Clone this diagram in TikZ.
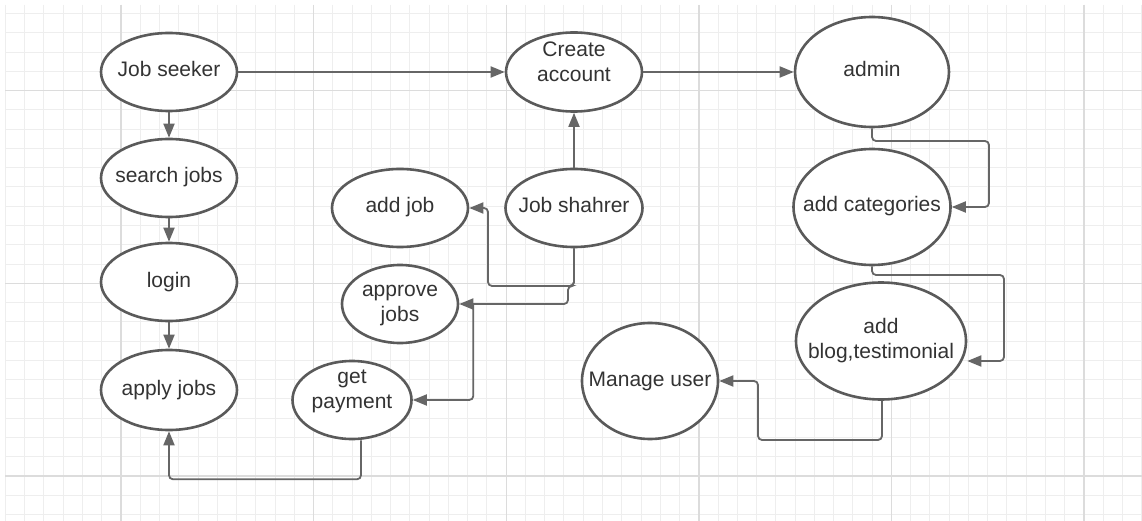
\documentclass[tikz,border=0pt]{standalone}
\usepackage{fontspec}
\setmainfont{Liberation Sans}
\usetikzlibrary{shapes.geometric,arrows.meta}
\definecolor{gridfine}{HTML}{EEEEEE}
\definecolor{gridmajor}{HTML}{DCDCDC}
\definecolor{edgecol}{HTML}{5A5A5A}
\definecolor{conncol}{HTML}{666666}
\definecolor{txtcol}{HTML}{333333}
\begin{document}
\begin{tikzpicture}[x=1pt,y=-1pt,
  ell/.style={ellipse,draw=edgecol,line width=2.6pt,fill=white,inner sep=0pt},
  lbl/.style={text=txtcol,font=\fontsize{21}{25}\selectfont,align=center,inner sep=0pt},
  arr/.style={draw=conncol,line width=1.8pt,rounded corners=4pt,-{Triangle[length=14pt,width=11pt]}},
  fineline/.style={draw=gridfine,line width=1pt},
  majorline/.style={draw=gridmajor,line width=1.4pt}
]
\fill[white] (0,0) rectangle (1142,521);
\useasboundingbox (0,0) rectangle (1142,521);
% grid
\foreach \i in {0,...,59} \draw[fineline] ({5.44+\i*19.26},5) -- ({5.44+\i*19.26},521);
\foreach \j in {0,...,26} \draw[fineline] (5.44,{13.66+\j*19.26}) -- (1142,{13.66+\j*19.26});
\foreach \i in {0,...,5} \draw[majorline] ({121+\i*192.6},5) -- ({121+\i*192.6},521);
\foreach \j in {0,...,2} \draw[majorline] (5.44,{90.7+\j*192.6}) -- (1142,{90.7+\j*192.6});

% ellipses
\node[ell,minimum width=136pt,minimum height=78pt] (js) at (169,72) {};
\node[ell,minimum width=136pt,minimum height=78pt] (sj) at (169,178) {};
\node[ell,minimum width=136pt,minimum height=78pt] (lg) at (169,282) {};
\node[ell,minimum width=136pt,minimum height=80pt] (aj) at (169,390) {};
\node[ell,minimum width=136pt,minimum height=79pt] (ca) at (574,72) {};
\node[ell,minimum width=154pt,minimum height=110pt] (ad) at (872,72) {};
\node[ell,minimum width=137pt,minimum height=78pt] (sh) at (574,208) {};
\node[ell,minimum width=136pt,minimum height=78pt] (addj) at (400,208) {};
\node[ell,minimum width=116pt,minimum height=78pt] (ap) at (400,304) {};
\node[ell,minimum width=119pt,minimum height=78pt] (gp) at (352,400) {};
\node[ell,minimum width=157pt,minimum height=116pt] (ac) at (872,207) {};
\node[ell,minimum width=170pt,minimum height=117pt] (ab) at (881,341) {};
\node[ell,minimum width=136pt,minimum height=116pt] (mu) at (650,381) {};

% labels
\node[lbl] (jst) at (js.center) {\strut Job seeker};
\node[lbl] (sjt) at (sj.center) {\strut search jobs};
\node[lbl] (lgt) at (lg.center) {\strut login};
\node[lbl] (ajt) at (aj.center) {\strut apply jobs};
\node[lbl] (cat) at ([yshift=8pt]ca.center) {\strut Create\\\strut account};
\node[lbl] (adt) at (ad.center) {\strut admin};
\node[lbl] (sht) at (sh.center) {\strut Job shahrer};
\node[lbl] (addjt) at (addj.center) {\strut add job};
\node[lbl] (apt) at (ap.center) {\strut approve\\\strut jobs};
\node[lbl] (gpt) at ([yshift=9pt]gp.center) {\strut get\\\strut payment};
\node[lbl] (act) at (ac.center) {\strut add categories};
\node[lbl] (abt) at (ab.center) {\strut add\\\strut blog,testimonial};
\node[lbl] (mut) at (mu.center) {\strut Manage user};

% connectors
\draw[arr] (js.east) -- (ca.west);
\draw[arr] (ca.east) -- (ad.west);
\draw[arr] (js.south) -- (sj.north);
\draw[arr] (sj.south) -- (lg.north);
\draw[arr] (lg.south) -- (aj.north);
\draw[arr] (sh.north) -- (ca.south);
\draw[arr] (sh.south) |- (488,286) |- (addj.east);
\draw[arr] (sh.south) |- (568,286) |- (ap.east);
\draw[arr] (ap.east) ++(14,0) |- (gp.east);
\draw[arr] ([xshift=9pt]gp.south) -- ++(0,39) -| (aj.south);
\draw[arr] (ad.south) |- (989,141) |- (ac.east);
\draw[arr] (ac.south) |- (1004,275) |- ([yshift=-20pt]ab.east);
\draw[arr] ([xshift=1pt]ab.south) |- (758,440) |- (mu.east);
\end{tikzpicture}
\end{document}
